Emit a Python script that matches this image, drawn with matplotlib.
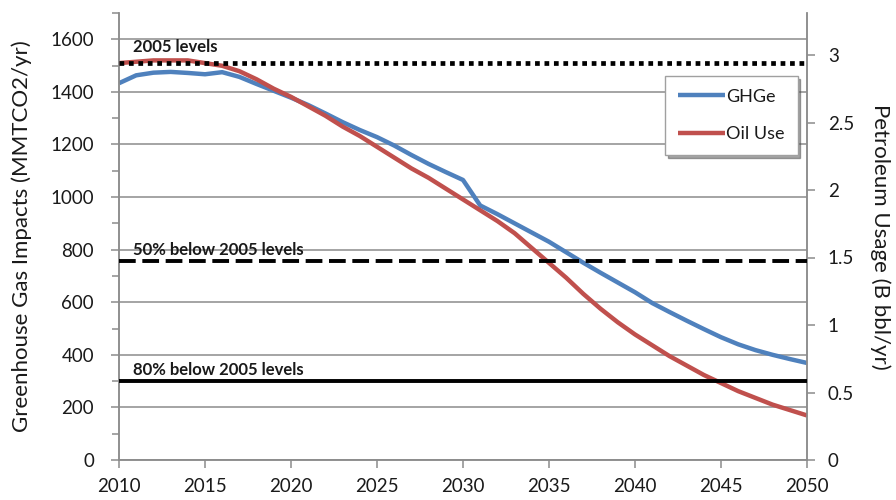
import numpy as np
import matplotlib
matplotlib.use('Agg')
import matplotlib.pyplot as plt

plt.rcParams['font.family'] = ['Lato', 'DejaVu Sans']

years = list(range(2010, 2051))

# Greenhouse gas impacts (MMTCO2/yr), left axis
ghge = [1433, 1463, 1473, 1476, 1472, 1467, 1475, 1457, 1430, 1404,
        1378, 1350, 1318, 1285, 1255, 1228, 1196, 1160, 1126, 1095,
        1065, 968, 935, 900, 865, 830, 790, 750, 712, 675,
        638, 597, 563, 530, 498, 467, 440, 418, 400, 384, 369]

# Petroleum usage (B bbl/yr), right axis
oil_use = [2.94, 2.95, 2.96, 2.96, 2.96, 2.94, 2.92, 2.88, 2.82, 2.75,
           2.69, 2.62, 2.55, 2.47, 2.40, 2.32, 2.24, 2.16, 2.09, 2.01,
           1.93, 1.85, 1.77, 1.68, 1.57, 1.46, 1.35, 1.23, 1.12, 1.02,
           0.93, 0.85, 0.77, 0.70, 0.63, 0.57, 0.51, 0.46, 0.41, 0.37, 0.33]

# target levels on the GHG axis
target_labels = ['2005 levels', '50% below 2005 levels', '80% below 2005 levels']
target_values = [1510, 755, 300]

blue = '#4F81BD'
red = '#C0504D'
grid_col = '#8c8c8c'
text_col = '#1a1a1a'

fig = plt.figure(figsize=(8.96, 5.0), dpi=100)
ax1 = fig.add_axes([119 / 896, 1 - 460 / 500, (807 - 119) / 896, (460 - 13) / 500])
ax2 = ax1.twinx()

ax1.set_xlim(2010, 2050)
ax1.set_ylim(0, 1700)
ax2.set_ylim(0, 447 / 135)

ax1.set_yticks(range(0, 1601, 200))
ax1.set_yticks(range(0, 1701, 100), minor=True)
ax1.set_xticks(range(2010, 2051, 5))
ax2.set_yticks([0, 0.5, 1, 1.5, 2, 2.5, 3])
ax2.set_yticklabels(['0', '0.5', '1', '1.5', '2', '2.5', '3'])

ax1.grid(axis='y', which='major', color=grid_col, lw=1.1)
ax1.set_axisbelow(True)

for ax in (ax1, ax2):
    for s in ('left', 'right', 'bottom'):
        ax.spines[s].set_color(grid_col)
        ax.spines[s].set_linewidth(1.1)
    ax.spines['top'].set_visible(False)
    ax.tick_params(which='both', direction='out', color=grid_col, width=1.1,
                   labelsize=13.5, labelcolor=text_col)
    ax.tick_params(which='major', length=6)
    ax.tick_params(which='minor', length=5)
ax1.tick_params(axis='x', pad=7)
ax1.tick_params(axis='y', pad=12)
ax2.tick_params(axis='y', pad=9)

# data lines
l1, = ax1.plot(years, ghge, color=blue, lw=3.2, solid_capstyle='butt', label='GHGe')
l2, = ax2.plot(years, oil_use, color=red, lw=3.2, solid_capstyle='butt', label='Oil Use')

# target lines drawn on top of the series
styles = [(0, (1, 1)), (0, (4.3, 1.7)), '-']
widths = [3.4, 2.8, 2.8]
for val, ls, lw in zip(target_values, styles, widths):
    ax2.plot([2010, 2050], [val, val], transform=ax1.transData, color='black',
             ls=ls, lw=lw, zorder=5)

label_y = [1572, 798, 342]
for lab, yv in zip(target_labels, label_y):
    ax2.text(2010.8, yv, lab, transform=ax1.transData, fontsize=12,
             fontweight='bold', color=text_col, va='center', ha='left', zorder=6)

ax1.set_ylabel('Greenhouse Gas Impacts (MMTCO2/yr)', fontsize=16, color=text_col, labelpad=13)
ax2.set_ylabel('Petroleum Usage (B bbl/yr)', fontsize=16, color=text_col,
               rotation=270, labelpad=26)

leg = fig.legend([l1, l2], ['GHGe', 'Oil Use'], loc='upper left',
                 bbox_to_anchor=(665 / 896, 1 - 76 / 500), fontsize=13,
                 frameon=True, fancybox=False, shadow=True, labelspacing=1.2,
                 handlelength=2.6, handletextpad=0.1, borderpad=0.7,
                 borderaxespad=0)
leg.get_frame().set_edgecolor('#a0a0a0')
leg.get_frame().set_linewidth(1.0)
for t in leg.get_texts():
    t.set_color(text_col)

fig.savefig('out.png', dpi=100)
